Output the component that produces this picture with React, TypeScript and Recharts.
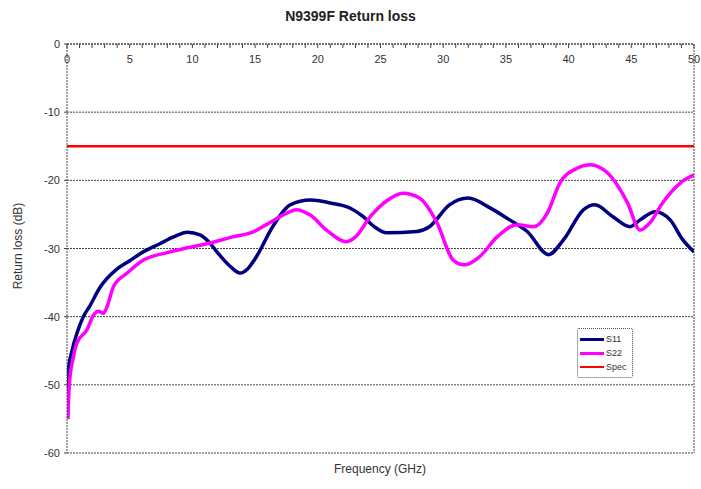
import React from "react";
import { LineChart, Line, XAxis, YAxis, CartesianGrid, ReferenceLine } from "recharts";

const s11Freq = [0.05, 0.1, 0.4, 0.8, 1.3, 1.8, 2.6, 4.0, 5.0, 5.8, 7.4, 8.5, 9.6, 10.6, 11.3, 12, 13, 13.8, 14.4, 15.1, 16.4, 17.8, 19.4, 21.2, 22.6, 23.6, 24.5, 25.5, 27.9, 28.9, 30.5, 32.0, 33.7, 35.3, 36.7, 38.4, 39.6, 41.2, 42.1, 43.5, 44.9, 45.7, 46.9, 48.1, 49.1, 50];
const s11Values = [-55, -48, -45, -42.4, -40, -38.5, -35.8, -33, -31.8, -30.8, -29.3, -28.3, -27.6, -28, -29, -30.6, -32.6, -33.6, -33, -31.2, -26.8, -23.6, -22.9, -23.4, -24.1, -25.3, -26.8, -27.7, -27.5, -26.8, -23.6, -22.6, -24.0, -25.8, -27.5, -30.9, -28.7, -24.3, -23.6, -25.3, -26.8, -25.8, -24.6, -25.8, -28.7, -30.5];

const s22Freq = [0.05, 0.2, 0.5, 0.8, 1.6, 2.1, 2.5, 2.9, 3.2, 3.7, 4.8, 6.1, 8, 9.6, 11.4, 13.2, 14.8, 15.9, 17.8, 18.3, 19.4, 20.7, 22.3, 23.0, 24.2, 25.5, 26.8, 28.1, 29.5, 30.8, 31.7, 32.9, 34.3, 35.9, 37.2, 38.3, 39.3, 40.7, 41.7, 43.1, 44.7, 45.7, 46.5, 47.5, 48.9, 50];
const s22Values = [-55, -49.7, -46, -43.8, -41.9, -39.8, -39.2, -39.5, -38.5, -35.6, -33.6, -31.7, -30.6, -29.9, -29.2, -28.3, -27.6, -26.5, -24.6, -24.3, -25.1, -27.3, -29, -28.3, -25.3, -23, -21.9, -22.6, -26.2, -31.7, -32.4, -31.2, -28.3, -26.5, -26.8, -24.8, -20.4, -18.2, -17.7, -18.9, -23.3, -27.3, -26.2, -23.3, -20.4, -19.2];

const specFreq = [0, 50];
const specValues = [-15, -15];

const xTicks = Array.from({ length: 51 }, (_, i) => i);
const yTicks = [0, -10, -20, -30, -40, -50, -60];

const s11Data = s11Freq.map((f, i) => ({ f, v: s11Values[i] }));
const s22Data = s22Freq.map((f, i) => ({ f, v: s22Values[i] }));
const specData = specFreq.map((f, i) => ({ f, v: specValues[i] }));

const FONT = "'Liberation Sans', Arial, sans-serif";
const GRID = "#444";

const XTick = (props: any) => {
  const { x, payload } = props;
  const v = payload.value;
  const y = 44;
  return (
    <g>
      <line x1={x} x2={x} y1={y} y2={y + 4} stroke="#444" strokeWidth={1} />
      {v % 5 === 0 ? (
        <text x={x} y={y + 19} textAnchor="middle" fontSize={11} fill="#333" fontFamily={FONT}>
          {v}
        </text>
      ) : null}
    </g>
  );
};

const YTick = (props: any) => {
  const { x, y, payload } = props;
  return (
    <text x={x - 2} y={y + 4} textAnchor="end" fontSize={11} fill="#333" fontFamily={FONT}>
      {payload.value}
    </text>
  );
};

export default function App() {
  return (
    <div style={{ position: "absolute", left: 0, top: 0, width: 701, height: 489, background: "#fff", fontFamily: FONT }}>
      <LineChart width={701} height={489} margin={{ top: 24, right: 7, bottom: 36, left: 0 }}>
        <CartesianGrid xAxisId="x" yAxisId="y" horizontal={true} vertical={false} stroke={GRID} strokeDasharray="2 1" />
        <XAxis
          dataKey="f"
          type="number"
          domain={[0, 50]}
          ticks={xTicks}
          orientation="top"
          height={20}
          xAxisId="x"
          axisLine={{ stroke: GRID, strokeDasharray: "2 1" }}
          tickLine={false}
          tick={<XTick />}
          interval={0}
          allowDataOverflow
        />
        <YAxis
          type="number"
          domain={[-60, 0]}
          ticks={yTicks}
          width={67}
          yAxisId="y"
          axisLine={{ stroke: GRID, strokeDasharray: "2 1" }}
          tickLine={{ stroke: GRID }}
          tickSize={3}
          tick={<YTick />}
          interval={0}
        />
        <ReferenceLine xAxisId="x" yAxisId="y" x={50} stroke={GRID} strokeDasharray="2 1" />
        <Line xAxisId="x" yAxisId="y" data={specData} dataKey="v" type="linear" stroke="#FF0000" strokeWidth={2.5} dot={false} isAnimationActive={false} />
        <Line xAxisId="x" yAxisId="y" data={s11Data} dataKey="v" type="monotone" stroke="#000080" strokeWidth={3.5} dot={false} isAnimationActive={false} />
        <Line xAxisId="x" yAxisId="y" data={s22Data} dataKey="v" type="monotone" stroke="#FF00FF" strokeWidth={3.5} dot={false} isAnimationActive={false} />
      </LineChart>
      <div style={{ position: "absolute", left: 0, top: 8, width: 701, textAlign: "center", fontSize: 14, fontWeight: "bold", color: "#222" }}>
        N9399F Return loss
      </div>
      <div style={{ position: "absolute", left: 280, top: 462, width: 200, textAlign: "center", fontSize: 12, color: "#333" }}>
        Frequency (GHz)
      </div>
      <div style={{ position: "absolute", left: 18, top: 247, width: 0, height: 0 }}>
        <div style={{ position: "absolute", left: -80, top: -8, width: 160, textAlign: "center", fontSize: 12, color: "#333", transform: "rotate(-90deg)", whiteSpace: "nowrap" }}>
          Return loss (dB)
        </div>
      </div>
      <div style={{ position: "absolute", left: 577, top: 328, width: 56, height: 50, border: "1px dotted #555", borderRadius: 2, fontSize: 9, color: "#333", boxSizing: "border-box", padding: "3px 2px" }}>
        {[
          { name: "S11", color: "#000080", w: 3 },
          { name: "S22", color: "#FF00FF", w: 3 },
          { name: "Spec", color: "#FF0000", w: 2 },
        ].map((e) => (
          <div key={e.name} style={{ display: "flex", alignItems: "center", height: 14 }}>
            <div style={{ width: 24, height: e.w, background: e.color, marginRight: 2 }} />
            <span>{e.name}</span>
          </div>
        ))}
      </div>
    </div>
  );
}
